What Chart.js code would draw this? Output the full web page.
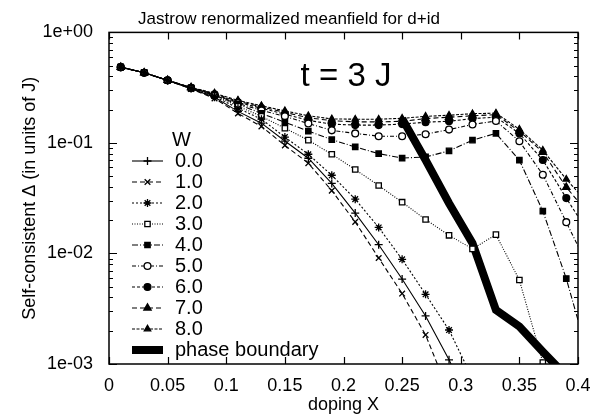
<!DOCTYPE html>
<html>
<head>
<meta charset="utf-8">
<script src="https://cdn.jsdelivr.net/npm/chart.js@4.4.1/dist/chart.umd.min.js"></script>
<style>
  html, body { margin: 0; padding: 0; background: #fff; }
  #wrap { width: 611px; height: 417px; position: relative; }
</style>
</head>
<body>
<div id="wrap"><canvas id="deltaChart"></canvas></div>
<script>
// =========================
// DATA
// =========================

const dopingX = [0.01, 0.03, 0.05, 0.07, 0.09, 0.11, 0.13, 0.15, 0.17, 0.19, 0.21,
                 0.23, 0.25, 0.27, 0.29, 0.31, 0.33, 0.35, 0.37, 0.39, 0.41];

const w0 = [0.485, 0.432, 0.368, 0.310, 0.259, 0.193, 0.151, 0.104, 0.0727, 0.043, 0.0232,
            0.0120, 0.00587, 0.00272, 0.00109, 0.0004, null, null, null, null, null];
const w1 = [0.485, 0.432, 0.368, 0.308, 0.253, 0.185, 0.141, 0.095, 0.0656, 0.037, 0.0193,
            0.0091, 0.00434, 0.00183, 0.00055, null, null, null, null, null, null];
const w2 = [0.485, 0.432, 0.368, 0.312, 0.264, 0.206, 0.164, 0.113, 0.079, 0.051, 0.031,
            0.0172, 0.00885, 0.00427, 0.00203, 0.00074, null, null, null, null, null];
const w3 = [0.485, 0.432, 0.369, 0.313, 0.268, 0.215, 0.174, 0.136, 0.106, 0.079, 0.0575,
            0.0412, 0.0291, 0.0203, 0.0146, 0.0110, 0.0148, 0.00575, 0.00103, null, null];
const w4 = [0.485, 0.432, 0.369, 0.314, 0.270, 0.224, 0.185, 0.154, 0.128, 0.107, 0.092,
            0.080, 0.073, 0.0747, 0.0847, 0.106, 0.122, 0.0698, 0.0242, 0.00593, 0.00105];
const w5 = [0.485, 0.432, 0.369, 0.315, 0.272, 0.228, 0.197, 0.174, 0.150, 0.130, 0.122,
            0.115, 0.115, 0.120, 0.132, 0.147, 0.158, 0.1036, 0.0516, 0.0192, 0.0071];
const w6 = [0.485, 0.432, 0.369, 0.316, 0.275, 0.233, 0.206, 0.182, 0.160, 0.148, 0.145,
            0.145, 0.148, 0.154, 0.157, 0.166, 0.171, 0.122, 0.070, 0.0317, 0.0147];
const w7 = [0.485, 0.432, 0.369, 0.317, 0.278, 0.238, 0.212, 0.189, 0.169, 0.159, 0.155,
            0.155, 0.157, 0.166, 0.171, 0.176, 0.180, 0.128, 0.0824, 0.0398, 0.0222];
const w8 = [0.485, 0.432, 0.369, 0.318, 0.281, 0.243, 0.217, 0.195, 0.176, 0.165, 0.164,
            0.164, 0.167, 0.174, 0.178, 0.184, 0.186, 0.133, 0.086, 0.047, 0.0274];

const boundaryX = [0.25, 0.27, 0.29, 0.31, 0.33, 0.35, 0.37, 0.39];
const boundary  = [0.166, 0.070, 0.0285, 0.0124, 0.00308, 0.00218, 0.00129, 0.00078];

const wLabels = ["0.0", "1.0", "2.0", "3.0", "4.0", "5.0", "6.0", "7.0", "8.0"];
const boundaryLabel = "phase boundary";

const xTickValues = [0, 0.05, 0.1, 0.15, 0.2, 0.25, 0.3, 0.35, 0.4];
const xTickLabels = ["0", "0.05", "0.1", "0.15", "0.2", "0.25", "0.3", "0.35", "0.4"];
const yTickValues = [0.001, 0.01, 0.1, 1];
const yTickLabels = ["1e-03", "1e-02", "1e-01", "1e+00"];

// =========================
// STYLES
// =========================

const FONT = "'Liberation Sans', Arial, Helvetica, sans-serif";

const styles = [
    { dash: [],            point: "cross",    radius: 4,   fill: "#000" },
    { dash: [5, 3],        point: "crossRot", radius: 4,   fill: "#000" },
    { dash: [2, 2],        point: "star",     radius: 4,   fill: "#000" },
    { dash: [1, 1.5],      point: "rect",     radius: 3.8, fill: "#fff" },
    { dash: [6, 2, 1, 2],  point: "rect",     radius: 3.8, fill: "#000" },
    { dash: [4, 2, 1, 2],  point: "circle",   radius: 3.4, fill: "#fff" },
    { dash: [3, 2],        point: "circle",   radius: 3.4, fill: "#000" },
    { dash: [5, 3],        point: "triangle", radius: 4.2, fill: "#000" },
    { dash: [3, 1.5],      point: "triangle", radius: 3.7, fill: "#000" }
];

const seriesW = [w0, w1, w2, w3, w4, w5, w6, w7, w8];

function toPoints(xs, ys) {
    const pts = [];
    xs.forEach((x, i) => { if (ys[i] !== null) pts.push({ x: x, y: ys[i] }); });
    return pts;
}

const datasets = seriesW.map((ys, i) => ({
    label: wLabels[i],
    data: toPoints(dopingX, ys),
    borderColor: "#000",
    borderWidth: 1.1,
    borderDash: styles[i].dash,
    pointStyle: styles[i].point,
    pointRadius: styles[i].radius,
    pointBorderWidth: 1.3,
    pointBorderColor: "#000",
    pointBackgroundColor: styles[i].fill,
    tension: 0
}));

datasets.push({
    label: boundaryLabel,
    data: toPoints(boundaryX, boundary),
    borderColor: "#000",
    borderWidth: 8,
    borderDash: [],
    pointRadius: 0,
    tension: 0
});

// =========================
// FRAME + INWARD TICKS + LEGEND
// =========================

const gnuplotFrame = {
    id: "gnuplotFrame",
    afterDraw(chart) {
        const ctx = chart.ctx;
        const a = chart.chartArea;
        const xs = chart.scales.x;
        const ys = chart.scales.y;

        ctx.save();
        ctx.strokeStyle = "#000";
        ctx.setLineDash([]);
        ctx.lineWidth = 1.5;
        ctx.strokeRect(a.left, a.top, a.right - a.left, a.bottom - a.top);

        ctx.lineWidth = 1.2;
        ctx.beginPath();
        xTickValues.forEach(v => {
            const px = Math.round(xs.getPixelForValue(v)) + 0.5;
            ctx.moveTo(px, a.bottom); ctx.lineTo(px, a.bottom - 7);
            ctx.moveTo(px, a.top);    ctx.lineTo(px, a.top + 7);
        });
        yTickValues.forEach((v, k) => {
            const py = Math.round(ys.getPixelForValue(v)) + 0.5;
            ctx.moveTo(a.left, py);  ctx.lineTo(a.left + 8, py);
            ctx.moveTo(a.right, py); ctx.lineTo(a.right - 8, py);
            if (k < yTickValues.length - 1) {
                for (let m = 2; m <= 9; m++) {
                    const pm = Math.round(ys.getPixelForValue(v * m)) + 0.5;
                    ctx.moveTo(a.left, pm);  ctx.lineTo(a.left + 4, pm);
                    ctx.moveTo(a.right, pm); ctx.lineTo(a.right - 4, pm);
                }
            }
        });
        ctx.stroke();

        // annotation
        ctx.fillStyle = "#000";
        ctx.font = "33px " + FONT;
        ctx.textAlign = "center";
        ctx.textBaseline = "middle";
        ctx.fillText("t = 3 J", 346, 77);

        // legend
        const lx0 = 132, lx1 = 163, tx = 175, top = 140, step = 21;
        ctx.font = "20px " + FONT;
        ctx.textAlign = "left";
        ctx.fillText("W", 172, top);
        chart.data.datasets.forEach((ds, i) => {
            const y = top + step * (i + 1);
            ctx.save();
            ctx.strokeStyle = "#000";
            ctx.lineWidth = ds.borderWidth;
            ctx.setLineDash(ds.borderDash || []);
            ctx.beginPath();
            ctx.moveTo(lx0, y); ctx.lineTo(lx1, y);
            ctx.stroke();
            ctx.setLineDash([]);
            if (ds.pointRadius > 0 && Chart.helpers && Chart.helpers.drawPoint) {
                ctx.lineWidth = 1.3;
                ctx.fillStyle = ds.pointBackgroundColor;
                ctx.strokeStyle = "#000";
                Chart.helpers.drawPoint(ctx, {
                    pointStyle: ds.pointStyle, radius: ds.pointRadius,
                    rotation: 0, borderWidth: 1.3
                }, (lx0 + lx1) / 2, y);
            }
            ctx.restore();
            ctx.fillText(ds.label, tx, y);
        });
        ctx.restore();
    }
};

// =========================
// CHART
// =========================

const canvas = document.getElementById("deltaChart");

if (canvas) {
    Chart.defaults.font.family = FONT;
    Chart.defaults.color = "#000";

    new Chart(canvas, {
        type: "line",
        data: { datasets: datasets },
        options: {
            responsive: true,
            maintainAspectRatio: false,
            animation: false,
            layout: { padding: { left: 0, right: 33, top: 0, bottom: 0 } },
            scales: {
                x: {
                    type: "linear",
                    min: 0,
                    max: 0.4,
                    afterFit: s => { s.height = 53; },
                    afterBuildTicks: s => { s.ticks = xTickValues.map(v => ({ value: v })); },
                    ticks: {
                        font: { size: 18 },
                        padding: 11,
                        maxRotation: 0,
                        callback: (v) => xTickLabels[xTickValues.findIndex(t => Math.abs(t - v) < 1e-9)]
                    },
                    grid: { display: false, drawTicks: false },
                    border: { display: false },
                    title: {
                        display: true,
                        text: "doping X",
                        font: { size: 18 },
                        padding: { top: 0, bottom: 1 }
                    }
                },
                y: {
                    type: "logarithmic",
                    min: 0.001,
                    max: 1,
                    afterFit: s => { s.width = 109; },
                    afterBuildTicks: s => { s.ticks = yTickValues.map(v => ({ value: v })); },
                    ticks: {
                        font: { size: 18 },
                        padding: 16,
                        callback: (v) => yTickLabels[yTickValues.findIndex(t => Math.abs(t - v) < 1e-12)]
                    },
                    grid: { display: false, drawTicks: false },
                    border: { display: false },
                    title: {
                        display: true,
                        text: "Self-consistent Δ (in units of J)",
                        font: { size: 18 },
                        padding: { top: 19, bottom: 0 }
                    }
                }
            },
            plugins: {
                legend: { display: false },
                tooltip: { enabled: false },
                title: {
                    display: true,
                    text: "Jastrow renormalized meanfield for d+id",
                    font: { size: 17, weight: "normal" },
                    color: "#000",
                    padding: { top: 9, bottom: 3 }
                }
            }
        },
        plugins: [gnuplotFrame]
    });
}
</script>
</body>
</html>
